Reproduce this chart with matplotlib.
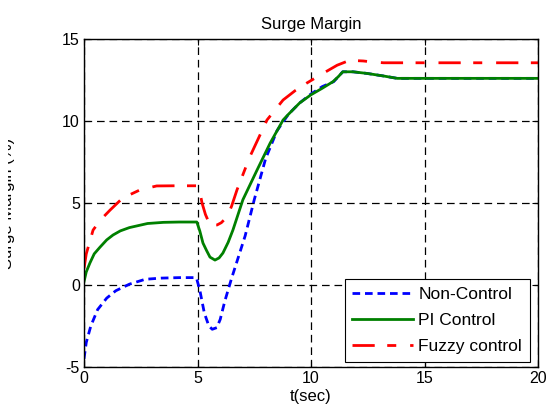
import matplotlib
matplotlib.use("Agg")
import matplotlib.pyplot as plt
from matplotlib.patches import Rectangle

plt.rcParams['font.family'] = ['Liberation Sans', 'DejaVu Sans']
plt.rcParams['axes.unicode_minus'] = False
plt.rcParams['lines.scale_dashes'] = False

# Non-Control
t_non = [0, 0.1, 0.3, 0.6, 1.0, 1.4, 2.0, 2.7, 3.4, 4.2, 4.95, 5.1, 5.3, 5.5, 5.65, 5.85,
         6.0, 6.2, 6.5, 6.8, 7.1, 7.5, 8.0, 8.5, 9.0, 9.5, 10.0, 10.5, 11.0, 11.4, 11.85,
         12.47, 13.17, 13.8, 20]
v_non = [-4.5, -3.5, -2.5, -1.5, -0.8, -0.35, 0.05, 0.35, 0.42, 0.45, 0.45, -0.3, -1.7,
         -2.5, -2.7, -2.6, -2.1, -1.0, 0.4, 1.7, 3.0, 5.2, 7.7, 9.4, 10.4, 11.1, 11.65,
         12.1, 12.4, 13.0, 13.0, 12.9, 12.75, 12.6, 12.6]

# PI Control
t_pi = [0, 0.1, 0.26, 0.45, 0.7, 1.0, 1.28, 1.6, 2.0, 2.8, 3.5, 4.2, 4.97, 5.1, 5.24,
        5.4, 5.55, 5.77, 5.95, 6.12, 6.35, 6.56, 7.0, 7.62, 8.2, 8.77, 9.0, 9.5, 10.0,
        10.5, 10.97, 11.2, 11.4, 11.85, 12.47, 13.17, 13.8, 20]
v_pi = [0.2, 0.8, 1.34, 1.9, 2.3, 2.75, 3.05, 3.3, 3.5, 3.75, 3.82, 3.84, 3.84, 3.3,
        2.56, 2.1, 1.7, 1.52, 1.65, 1.95, 2.6, 3.35, 5.2, 7.0, 8.65, 10.06, 10.4, 11.1,
        11.6, 12.0, 12.4, 12.7, 13.0, 13.0, 12.9, 12.75, 12.6, 12.6]

# Fuzzy control
t_fz = [0, 0.1, 0.4, 0.75, 1.15, 1.7, 2.47, 3.2, 4.0, 4.97, 5.1, 5.2, 5.35, 5.55, 5.86,
        6.05, 6.3, 6.5, 6.74, 7.3, 8.06, 8.77, 9.3, 9.8, 10.4, 11.15, 11.7, 12.3, 12.7,
        13.2, 20]
v_fz = [1.0, 1.9, 3.35, 4.0, 4.57, 5.3, 5.8, 6.04, 6.05, 6.05, 5.7, 5.0, 4.3, 3.66,
        3.66, 3.8, 4.15, 4.8, 5.8, 7.8, 10.06, 11.28, 11.85, 12.3, 12.8, 13.4, 13.7,
        13.66, 13.6, 13.55, 13.55]

x_ticks = [0, 5, 10, 15, 20]
y_ticks = [-5, 0, 5, 10, 15]

fig = plt.figure(figsize=(5.48, 4.13), dpi=100)
ax = fig.add_axes([84 / 548, 1 - 367 / 413, 454 / 548, 328 / 413])

ax.plot(t_non, v_non, color='#0000ff', lw=2, dashes=(5.5, 3.5), label='Non-Control')
ax.plot(t_pi, v_pi, color='#008000', lw=2, label='PI Control')
ax.plot(t_fz, v_fz, color='#ff0000', lw=2, dashes=(16, 9, 6.5, 10), label='Fuzzy control')

ax.set_xlim(0, 20)
ax.set_ylim(-5, 15)
ax.set_xticks(x_ticks)
ax.set_yticks(y_ticks)
ax.tick_params(direction='in', length=4, width=0.8, top=True, right=True,
               labelsize=11.5, colors='black', pad=3)
ax.grid(True, color='black', lw=0.9, dashes=(5.5, 3.5))
for s in ax.spines.values():
    s.set_linewidth(1.0)
    s.set_color('black')

ax.set_title('Surge Margin', fontsize=12, pad=7)
ax.set_xlabel('t(sec)', fontsize=12, labelpad=2)
ax.set_ylabel('Surge Margin (%)', fontsize=12)
ax.yaxis.set_label_coords((15 - 84) / 454, 0.5)

leg = ax.legend(loc='lower right', bbox_to_anchor=((530 - 84) / 454, 5 / 328),
                borderaxespad=0, fontsize=12.5, handlelength=3.5, handletextpad=0.3,
                labelspacing=0.62, borderpad=0.45, fancybox=False, framealpha=1,
                edgecolor='black')
leg.get_frame().set_linewidth(0.8)

fig.add_artist(Rectangle((0, 0), 8 / 548, 1, transform=fig.transFigure,
                         facecolor='white', edgecolor='none', zorder=10))

fig.savefig('out.png', dpi=100, facecolor='white')
